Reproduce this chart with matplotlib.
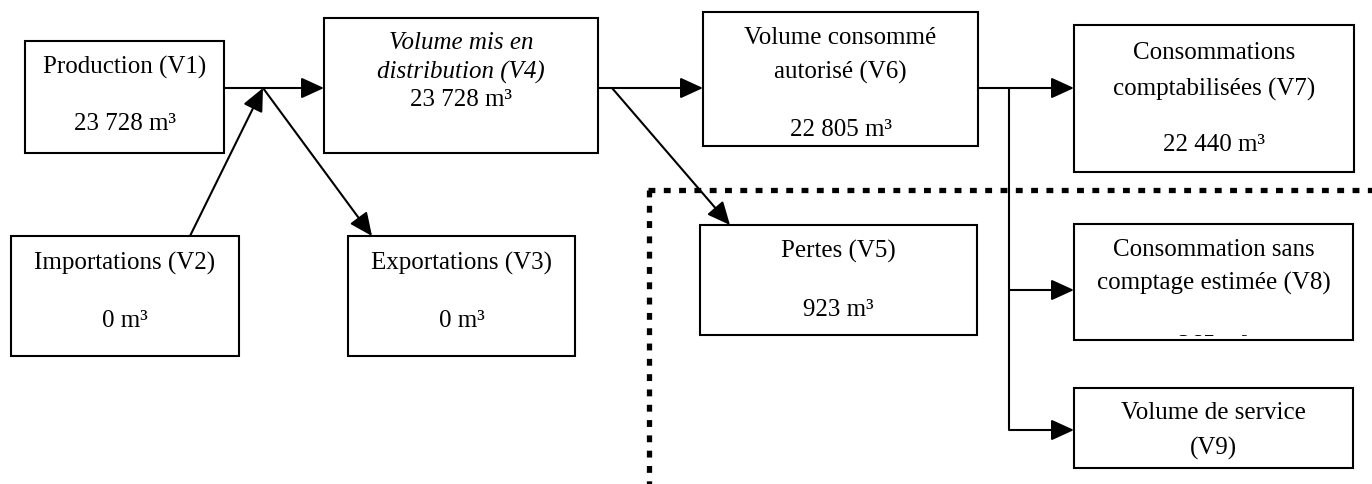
"""Water balance flow diagram (V1 .. V9), drawn in pixel coordinates."""
import matplotlib

matplotlib.use("Agg")
import matplotlib.pyplot as plt
from matplotlib.patches import Rectangle

plt.rcParams["font.family"] = ["Liberation Serif", "DejaVu Serif"]

# ---- content ----
KEYS = ["V1", "V2", "V3", "V4", "V5", "V6", "V7", "V8", "V9"]
TITLES = {
    "V1": ["Production (V1)"],
    "V2": ["Importations (V2)"],
    "V3": ["Exportations (V3)"],
    "V4": ["Volume mis en", "distribution (V4)"],
    "V5": ["Pertes (V5)"],
    "V6": ["Volume consommé", "autorisé (V6)"],
    "V7": ["Consommations", "comptabilisées (V7)"],
    "V8": ["Consommation sans", "comptage estimée (V8)"],
    "V9": ["Volume de service", "(V9)"],
}
VOLUMES = {"V1": "23 728", "V2": "0", "V3": "0", "V4": "23 728", "V5": "923",
           "V6": "22 805", "V7": "22 440", "V8": "365", "V9": None}

# ---- layout (pixels, y downwards) ----
BOX = {  # x0, y0, x1, y1
    "V1": (25, 42, 224, 154),
    "V2": (11, 237, 239, 357),
    "V3": (348, 237, 575, 357),
    "V4": (324, 19, 598, 154),
    "V5": (700, 226, 977, 336),
    "V6": (703, 13, 978, 147),
    "V7": (1074, 26, 1354, 173),
    "V8": (1074, 225, 1353, 341),
    "V9": (1074, 389, 1353, 469),
}
TITLE_Y = {"V1": [67], "V2": [263], "V3": [263], "V4": [43, 72], "V5": [251],
           "V6": [38, 72], "V7": [53, 89], "V8": [250, 283], "V9": [413, 448]}
VALUE_Y = {"V1": 124, "V2": 321, "V3": 321, "V4": 100, "V5": 310,
           "V6": 130, "V7": 145, "V8": 346}

FS = 18
LW = 1.5

fig = plt.figure(figsize=(13.72, 4.85), dpi=100)
ax = fig.add_axes([0, 0, 1, 1])
ax.set_xlim(0, 1372)
ax.set_ylim(485, 0)
ax.axis("off")


def arrow(p0, p1):
    ax.annotate("", xy=p1, xytext=p0,
                arrowprops=dict(arrowstyle="-|>,head_length=0.7,head_width=0.32",
                                color="black", lw=LW, shrinkA=0, shrinkB=0,
                                mutation_scale=20))


def line(xs, ys):
    ax.plot(xs, ys, color="black", lw=LW, solid_capstyle="butt")


for k in KEYS:
    x0, y0, x1, y1 = BOX[k]
    rect = Rectangle((x0, y0), x1 - x0, y1 - y0, fill=False, edgecolor="black",
                     lw=LW, zorder=3)
    ax.add_patch(rect)
    cx = (x0 + x1) / 2
    style = "italic" if k == "V4" else "normal"
    for txt, ty in zip(TITLES[k], TITLE_Y[k]):
        ax.text(cx, ty, txt, ha="center", va="center", fontsize=FS, style=style)
    if VOLUMES[k] is not None:
        t = ax.text(cx, VALUE_Y[k], f"{VOLUMES[k]} m³", ha="center", va="center",
                    fontsize=FS)
        if k == "V8":  # value text is cut off by the box bottom
            clip = Rectangle((x0, y0), x1 - x0, y1 - y0 - 4, transform=ax.transData)
            t.set_clip_path(clip)
            t.set_clip_on(True)

# dotted "losses" frame
dot = dict(color="black", lw=3.8, linestyle=(0, (1.3, 1.6)), dash_capstyle="butt")
ax.plot([648, 1372], [191, 191], **dot)
ax.plot([649, 649], [191, 485], **dot)

# connectors
Y_MAIN = 89
line([224, 263], [Y_MAIN, Y_MAIN])
arrow((263, Y_MAIN), (324, Y_MAIN))
arrow((190, 237), (263, Y_MAIN))
arrow((263, Y_MAIN), (372, 237))
arrow((598, Y_MAIN), (703, Y_MAIN))
arrow((612, Y_MAIN), (730, 226))
arrow((978, Y_MAIN), (1074, Y_MAIN))
line([1009, 1009], [Y_MAIN, 431])
arrow((1009, 291), (1074, 291))
arrow((1009, 431), (1074, 431))

fig.savefig("out.png", dpi=100, facecolor="white")
